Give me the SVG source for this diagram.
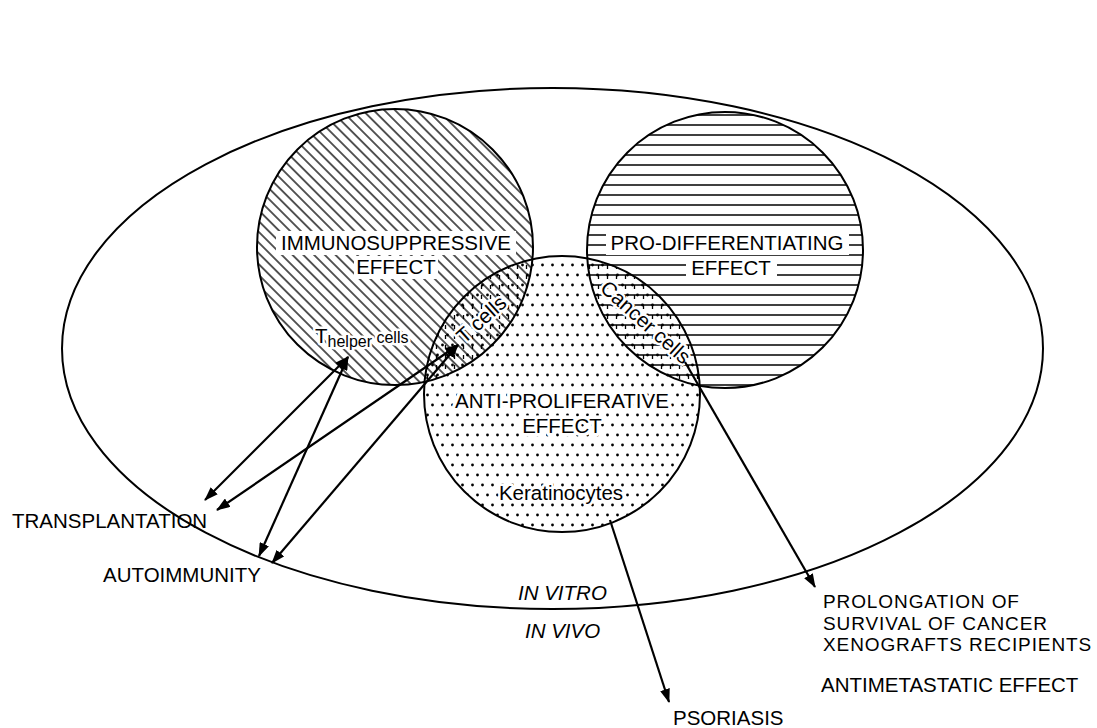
<svg xmlns="http://www.w3.org/2000/svg" width="1097" height="728" viewBox="0 0 1097 728">
<style>
.lbl{font-family:"Liberation Sans",Arial,sans-serif;font-size:20.5px;fill:#000}
.it{font-style:italic}
.halo{stroke:#fff;stroke-width:7px;stroke-linejoin:round;paint-order:stroke}
.halo2{stroke:#fff;stroke-width:5px;stroke-linejoin:round;paint-order:stroke}
.bg{fill:#fff}
.ring{fill:none;stroke:#000;stroke-width:2}
.conn{stroke:#000;stroke-width:2.2;fill:none}
.out2{font-size:19px;letter-spacing:0.9px}
</style>
<defs>
<pattern id="diag" patternUnits="userSpaceOnUse" width="12" height="7.6" patternTransform="rotate(45)">
<line x1="0" y1="3.8" x2="12" y2="3.8" stroke="#000" stroke-width="1.3"/>
</pattern>
<pattern id="horiz" patternUnits="userSpaceOnUse" width="12" height="10">
<line x1="0" y1="5" x2="12" y2="5" stroke="#000" stroke-width="1.5"/>
</pattern>
<pattern id="dots" patternUnits="userSpaceOnUse" width="10" height="20">
<circle cx="2.5" cy="5" r="1.4" fill="#000"/>
<circle cx="7.5" cy="15" r="1.4" fill="#000"/>
</pattern>
<pattern id="ticks" patternUnits="userSpaceOnUse" width="9" height="10">
<line x1="4.5" y1="5" x2="4.5" y2="9" stroke="#000" stroke-width="1.3"/>
</pattern>
<clipPath id="clipImm"><circle cx="395" cy="247" r="138"/></clipPath>
<clipPath id="clipPro"><circle cx="725" cy="250" r="138"/></clipPath>
<marker id="ah" viewBox="0 0 14 10" refX="13" refY="5" markerWidth="14" markerHeight="10" markerUnits="userSpaceOnUse" orient="auto-start-reverse">
<path d="M0,0 L14,5 L0,10 z" fill="#000"/>
</marker>
</defs>
<rect width="1097" height="728" fill="#fff"/>

<g id="outer">
<ellipse cx="552.5" cy="348.5" rx="490.5" ry="260.5" fill="none" stroke="#000" stroke-width="2"/>
<text class="lbl it" x="518" y="600">IN VITRO</text>
<text class="lbl it" x="525" y="638">IN VIVO</text>
</g>

<g id="immunosuppressive">
<circle cx="395" cy="247" r="138" fill="url(#diag)"/>
<rect class="bg" x="276" y="231" width="240" height="24"/>
<rect class="bg" x="354" y="256" width="84" height="23"/>
<text class="lbl" x="396" y="250" text-anchor="middle">IMMUNOSUPPRESSIVE</text>
<text class="lbl" x="396" y="274" text-anchor="middle">EFFECT</text>
<text class="lbl halo2" x="315" y="343" font-size="17px">T<tspan font-size="16px" dy="4">helper</tspan><tspan font-size="16px" dy="-4"> cells</tspan></text>
</g>

<g id="prodifferentiating">
<circle cx="725" cy="250" r="138" fill="url(#horiz)"/>
<rect class="bg" x="606" y="231" width="243" height="24"/>
<rect class="bg" x="686" y="257" width="91" height="22"/>
<text class="lbl" x="727" y="250" text-anchor="middle">PRO-DIFFERENTIATING</text>
<text class="lbl" x="731" y="275" text-anchor="middle">EFFECT</text>
</g>

<g id="antiproliferative">
<circle cx="562" cy="394" r="138" fill="url(#dots)"/>
<text class="lbl halo" x="562" y="408" text-anchor="middle">ANTI-PROLIFERATIVE</text>
<text class="lbl halo" x="562" y="433" text-anchor="middle">EFFECT</text>
<text class="lbl halo2" x="561" y="500" text-anchor="middle" font-size="17px">Keratinocytes</text>
</g>

<g id="overlaps">
<g clip-path="url(#clipImm)"><circle cx="562" cy="394" r="138" fill="url(#ticks)"/></g>
<g clip-path="url(#clipPro)"><circle cx="562" cy="394" r="138" fill="url(#ticks)"/></g>
<text class="lbl halo2" font-size="16.5px" text-anchor="middle" transform="translate(482,320) rotate(-42)" y="6">T cells</text>
<text class="lbl halo2" font-size="17px" text-anchor="middle" transform="translate(645,323) rotate(42)" y="6">Cancer cells</text>
</g>

<g id="rings">
<circle class="ring" cx="395" cy="247" r="138"/>
<circle class="ring" cx="725" cy="250" r="138"/>
<circle class="ring" cx="562" cy="394" r="138"/>
</g>

<g id="outcomes">
<text class="lbl" x="12" y="528">TRANSPLANTATION</text>
<text class="lbl" x="103" y="582">AUTOIMMUNITY</text>
<text class="lbl" x="673" y="725">PSORIASIS</text>
<text class="lbl out2" x="823" y="608">PROLONGATION OF</text>
<text class="lbl out2" x="823" y="629.5">SURVIVAL OF CANCER</text>
<text class="lbl out2" x="823" y="651">XENOGRAFTS RECIPIENTS</text>
<text class="lbl" x="821" y="692">ANTIMETASTATIC EFFECT</text>
</g>

<g id="connectors">
<line class="conn" x1="348" y1="357" x2="205" y2="500" marker-start="url(#ah)" marker-end="url(#ah)"/>
<line class="conn" x1="348" y1="357" x2="259" y2="556" marker-start="url(#ah)" marker-end="url(#ah)"/>
<line class="conn" x1="458" y1="345" x2="217" y2="510" marker-start="url(#ah)" marker-end="url(#ah)"/>
<line class="conn" x1="458" y1="345" x2="272" y2="563" marker-start="url(#ah)" marker-end="url(#ah)"/>
<line class="conn" x1="610" y1="520" x2="669" y2="702" marker-end="url(#ah)"/>
<line class="conn" x1="685" y1="362" x2="815" y2="587" marker-end="url(#ah)"/>
</g>
</svg>
